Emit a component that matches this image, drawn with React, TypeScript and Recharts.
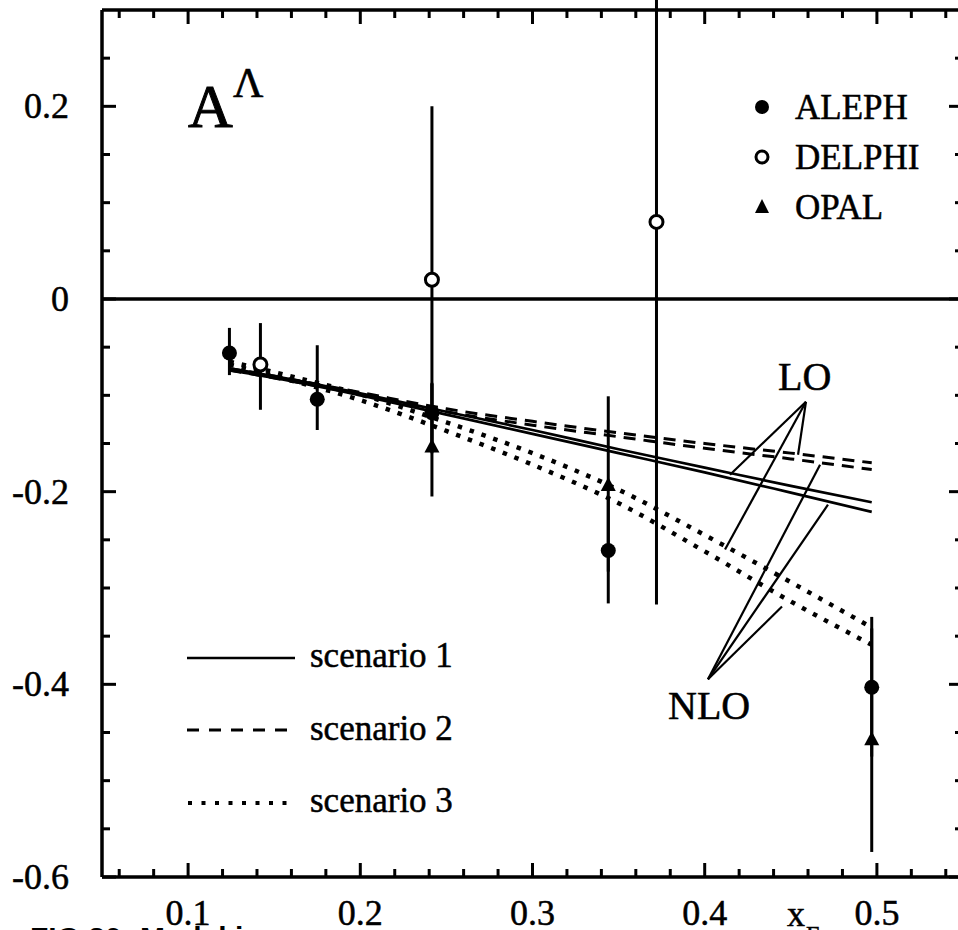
import React from "react";
import {
  ComposedChart,
  Line,
  Scatter,
  XAxis,
  YAxis,
  ErrorBar,
  ReferenceLine,
} from "recharts";

// ---- curves (theory) ----
const curveX = [0.124, 0.15, 0.2, 0.25, 0.3, 0.35, 0.4, 0.45, 0.497];
const s1LO = [-0.072, -0.08, -0.098, -0.117, -0.136, -0.156, -0.175, -0.194, -0.211];
const s1NLO = [-0.074, -0.082, -0.1, -0.12, -0.14, -0.16, -0.18, -0.201, -0.221];
const s2LO = [-0.072, -0.08, -0.097, -0.114, -0.127, -0.139, -0.15, -0.16, -0.17];
const s2NLO = [-0.074, -0.082, -0.099, -0.117, -0.131, -0.143, -0.155, -0.166, -0.177];
const s3LO = [-0.065, -0.076, -0.099, -0.128, -0.16, -0.198, -0.245, -0.294, -0.341];
const s3NLO = [-0.068, -0.08, -0.105, -0.137, -0.172, -0.212, -0.262, -0.314, -0.359];

// ---- measurements: x, y, error [below, above] ----
const alephX = [0.124, 0.175, 0.2416, 0.344, 0.497];
const alephY = [-0.056, -0.104, -0.118, -0.261, -0.403];
const alephErr = [[0.023, 0.026], [0.032, 0.056], [0.03, 0.03], [0.055, 0.055], [0.072, 0.073]];

const delphiX = [0.142, 0.2416, 0.372];
const delphiY = [-0.068, 0.02, 0.08];
const delphiErr = [[0.047, 0.043], [0.18, 0.18], [0.397, 0.4]];

const opalX = [0.2416, 0.344, 0.497];
const opalY = [-0.153, -0.193, -0.457];
const opalErr = [[0.052, 0.066], [0.09, 0.092], [0.117, 0.115]];

// ---- annotation pointer segments (data coords) ----
const loApex = { x: 0.4588, y: -0.1067 };
const loTargets = [
  { x: 0.4147, y: -0.1824 },
  { x: 0.4118, y: -0.2601 },
  { x: 0.4542, y: -0.1617 },
];
const nloApex = { x: 0.4019, y: -0.3948 };
const nloTargets = [
  { x: 0.467, y: -0.172 },
  { x: 0.4716, y: -0.2135 },
  { x: 0.4449, y: -0.3192 },
];

// ---- axes ----
const xDomain = [0.05, 0.55];
const yDomain = [-0.6, 0.3];
const xTicks = [
  0.06, 0.08, 0.1, 0.12, 0.14, 0.16, 0.18, 0.2, 0.22, 0.24, 0.26, 0.28, 0.3, 0.32, 0.34,
  0.36, 0.38, 0.4, 0.42, 0.44, 0.46, 0.48, 0.5, 0.52, 0.54,
];
const xTickLabels = ["0.1", "0.2", "0.3", "0.4", "0.5"];
const yTicks = [
  -0.6, -0.55, -0.5, -0.45, -0.4, -0.35, -0.3, -0.25, -0.2, -0.15, -0.1, -0.05, 0, 0.05,
  0.1, 0.15, 0.2, 0.25,
];
const yTickLabels = ["-0.6", "-0.4", "-0.2", "0", "0.2"];

const curveTable = curveX.map((x, i) => ({
  x,
  s1LO: s1LO[i],
  s1NLO: s1NLO[i],
  s2LO: s2LO[i],
  s2NLO: s2NLO[i],
  s3LO: s3LO[i],
  s3NLO: s3NLO[i],
}));

const mkPts = (xs: number[], ys: number[], es: number[][]) =>
  xs.map((x, i) => ({ x, y: ys[i], e: es[i] }));
const alephData = mkPts(alephX, alephY, alephErr);
const delphiData = mkPts(delphiX, delphiY, delphiErr);
const opalData = mkPts(opalX, opalY, opalErr);

const FONT = "'Liberation Serif', 'Times New Roman', serif";
const TXT = { fill: "#000", stroke: "#000", strokeWidth: 0.5 };

const fmt = (v: number) => (Math.round(v * 100) / 100).toString();
const isMajor = (v: number, step: number) =>
  Math.abs(v / step - Math.round(v / step)) < 1e-6;

const makeTick =
  (orient: "left" | "right" | "top" | "bottom", labels: string[] | null, step: number) =>
  (props: any) => {
    const { x, y, payload } = props;
    const v = payload.value as number;
    const major = isMajor(v, step);
    const len = major ? 14 : 8;
    let line;
    if (orient === "left") line = <line x1={x} y1={y} x2={x + len} y2={y} />;
    else if (orient === "right") line = <line x1={x} y1={y} x2={x - len} y2={y} />;
    else if (orient === "bottom") line = <line x1={x} y1={y} x2={x} y2={y - len} />;
    else line = <line x1={x} y1={y} x2={x} y2={y + len} />;
    const lab = fmt(v);
    let text = null;
    if (labels && labels.includes(lab)) {
      if (orient === "left")
        text = (
          <text x={x - 33} y={y + 12} textAnchor="end" fontSize={36} fontFamily={FONT} {...TXT}>
            {lab}
          </text>
        );
      else if (orient === "bottom")
        text = (
          <text x={x} y={y + 48} textAnchor="middle" fontSize={36} fontFamily={FONT} {...TXT}>
            {lab}
          </text>
        );
    }
    return (
      <g>
        <g stroke="#000" strokeWidth={3}>{line}</g>
        {text}
      </g>
    );
  };

const FilledCircle = (p: any) => <circle cx={p.cx} cy={p.cy} r={7.5} fill="#000" />;
const OpenCircle = (p: any) => (
  <circle cx={p.cx} cy={p.cy} r={6.5} fill="#fff" stroke="#000" strokeWidth={3} />
);
const Triangle = (p: any) => (
  <polygon
    points={`${p.cx},${p.cy - 8} ${p.cx - 7.5},${p.cy + 6} ${p.cx + 7.5},${p.cy + 6}`}
    fill="#000"
  />
);

const AX = { stroke: "#000", strokeWidth: 3.5 };

export default function App() {
  return (
    <div
      style={{
        position: "absolute",
        left: 0,
        top: 0,
        width: 958,
        height: 930,
        overflow: "hidden",
        background: "#fff",
      }}
    >
      <ComposedChart
        width={980}
        height={930}
        data={curveTable}
        margin={{ top: 9, left: 101, right: 16, bottom: 52 }}
      >
        <XAxis
          xAxisId="b"
          dataKey="x"
          type="number"
          domain={xDomain}
          allowDataOverflow
          ticks={xTicks}
          interval={0}
          height={1}
          tickSize={0}
          tickMargin={0}
          axisLine={AX}
          tickLine={false}
          tick={makeTick("bottom", xTickLabels, 0.1)}
        />
        <XAxis
          xAxisId="t"
          orientation="top"
          dataKey="x"
          type="number"
          domain={xDomain}
          allowDataOverflow
          ticks={xTicks}
          interval={0}
          height={1}
          tickSize={0}
          tickMargin={0}
          axisLine={AX}
          tickLine={false}
          tick={makeTick("top", null, 0.1)}
        />
        <YAxis
          yAxisId="l"
          type="number"
          domain={yDomain}
          allowDataOverflow
          ticks={yTicks}
          interval={0}
          width={1}
          tickSize={0}
          tickMargin={0}
          axisLine={AX}
          tickLine={false}
          tick={makeTick("left", yTickLabels, 0.2)}
        />
        <YAxis
          yAxisId="r"
          orientation="right"
          type="number"
          domain={yDomain}
          allowDataOverflow
          ticks={yTicks}
          interval={0}
          width={1}
          tickSize={0}
          tickMargin={0}
          axisLine={AX}
          tickLine={false}
          tick={makeTick("right", null, 0.2)}
        />

        <ReferenceLine xAxisId="b" yAxisId="l" y={0} stroke="#000" strokeWidth={3.5} />

        {loTargets.map((t, i) => (
          <ReferenceLine
            key={"lo" + i}
            xAxisId="b"
            yAxisId="l"
            segment={[loApex, t]}
            stroke="#000"
            strokeWidth={2.2}
            ifOverflow="visible"
          />
        ))}
        {nloTargets.map((t, i) => (
          <ReferenceLine
            key={"nlo" + i}
            xAxisId="b"
            yAxisId="l"
            segment={[nloApex, t]}
            stroke="#000"
            strokeWidth={2.2}
            ifOverflow="visible"
          />
        ))}

        <Line xAxisId="b" yAxisId="l" dataKey="s1LO" type="monotone" stroke="#000" strokeWidth={2.7} dot={false} isAnimationActive={false} />
        <Line xAxisId="b" yAxisId="l" dataKey="s1NLO" type="monotone" stroke="#000" strokeWidth={2.7} dot={false} isAnimationActive={false} />
        <Line xAxisId="b" yAxisId="l" dataKey="s2LO" type="monotone" stroke="#000" strokeWidth={3} strokeDasharray="12 8" dot={false} isAnimationActive={false} />
        <Line xAxisId="b" yAxisId="l" dataKey="s2NLO" type="monotone" stroke="#000" strokeWidth={3} strokeDasharray="12 8" dot={false} isAnimationActive={false} />
        <Line xAxisId="b" yAxisId="l" dataKey="s3LO" type="monotone" stroke="#000" strokeWidth={4.5} strokeDasharray="4.5 8" dot={false} isAnimationActive={false} />
        <Line xAxisId="b" yAxisId="l" dataKey="s3NLO" type="monotone" stroke="#000" strokeWidth={4.5} strokeDasharray="4.5 8" dot={false} isAnimationActive={false} />

        <Scatter xAxisId="b" yAxisId="l" data={alephData} dataKey="y" shape={FilledCircle} isAnimationActive={false}>
          <ErrorBar dataKey="e" direction="y" width={0} stroke="#000" strokeWidth={3} />
        </Scatter>
        <Scatter xAxisId="b" yAxisId="l" data={opalData} dataKey="y" shape={Triangle} isAnimationActive={false}>
          <ErrorBar dataKey="e" direction="y" width={0} stroke="#000" strokeWidth={3} />
        </Scatter>
        <Scatter xAxisId="b" yAxisId="l" data={delphiData} dataKey="y" shape={OpenCircle} isAnimationActive={false}>
          <ErrorBar dataKey="e" direction="y" width={0} stroke="#000" strokeWidth={3} />
        </Scatter>
      </ComposedChart>

      <svg
        width={958}
        height={930}
        style={{ position: "absolute", left: 0, top: 0, pointerEvents: "none" }}
        fontFamily={FONT}
      >
        {/* A^Lambda */}
        <text x={188} y={127} fontSize={62} fill="#000" stroke="#000" strokeWidth={1}>A</text>
        <text x={233} y={97} fontSize={42} fill="#000" stroke="#000" strokeWidth={0.6}>Λ</text>

        {/* experiment legend */}
        <circle cx={762} cy={107} r={7} fill="#000" />
        <text x={795} y={119} fontSize={35} {...TXT}>ALEPH</text>
        <circle cx={762} cy={157} r={6} fill="#fff" stroke="#000" strokeWidth={3} />
        <text x={795} y={169} fontSize={35} {...TXT}>DELPHI</text>
        <polygon points="762,199 755,213 769,213" fill="#000" />
        <text x={795} y={219} fontSize={35} {...TXT}>OPAL</text>

        {/* scenario legend */}
        <line x1={187} y1={658} x2={295} y2={658} stroke="#000" strokeWidth={2.7} />
        <text x={310} y={667} fontSize={35} {...TXT}>scenario 1</text>
        <line x1={187} y1={730} x2={295} y2={730} stroke="#000" strokeWidth={3} strokeDasharray="12 10" />
        <text x={310} y={740} fontSize={35} {...TXT}>scenario 2</text>
        <line x1={188} y1={803} x2={295} y2={803} stroke="#000" strokeWidth={4} strokeDasharray="4 9.5" />
        <text x={310} y={812} fontSize={35} {...TXT}>scenario 3</text>

        {/* LO / NLO */}
        <text x={778} y={390} fontSize={40} {...TXT}>LO</text>
        <text x={668} y={719} fontSize={40} {...TXT}>NLO</text>

        {/* x axis title */}
        <text x={787} y={926} fontSize={36} {...TXT}>x</text>
        <text x={806} y={942} fontSize={24} {...TXT}>E</text>

        {/* caption (cut off) */}
        <text x={30} y={948} fontSize={30} fontWeight="bold" fontFamily="'Liberation Sans', Arial, sans-serif" fill="#000">
          FIG 30: Model i
        </text>
      </svg>
    </div>
  );
}
